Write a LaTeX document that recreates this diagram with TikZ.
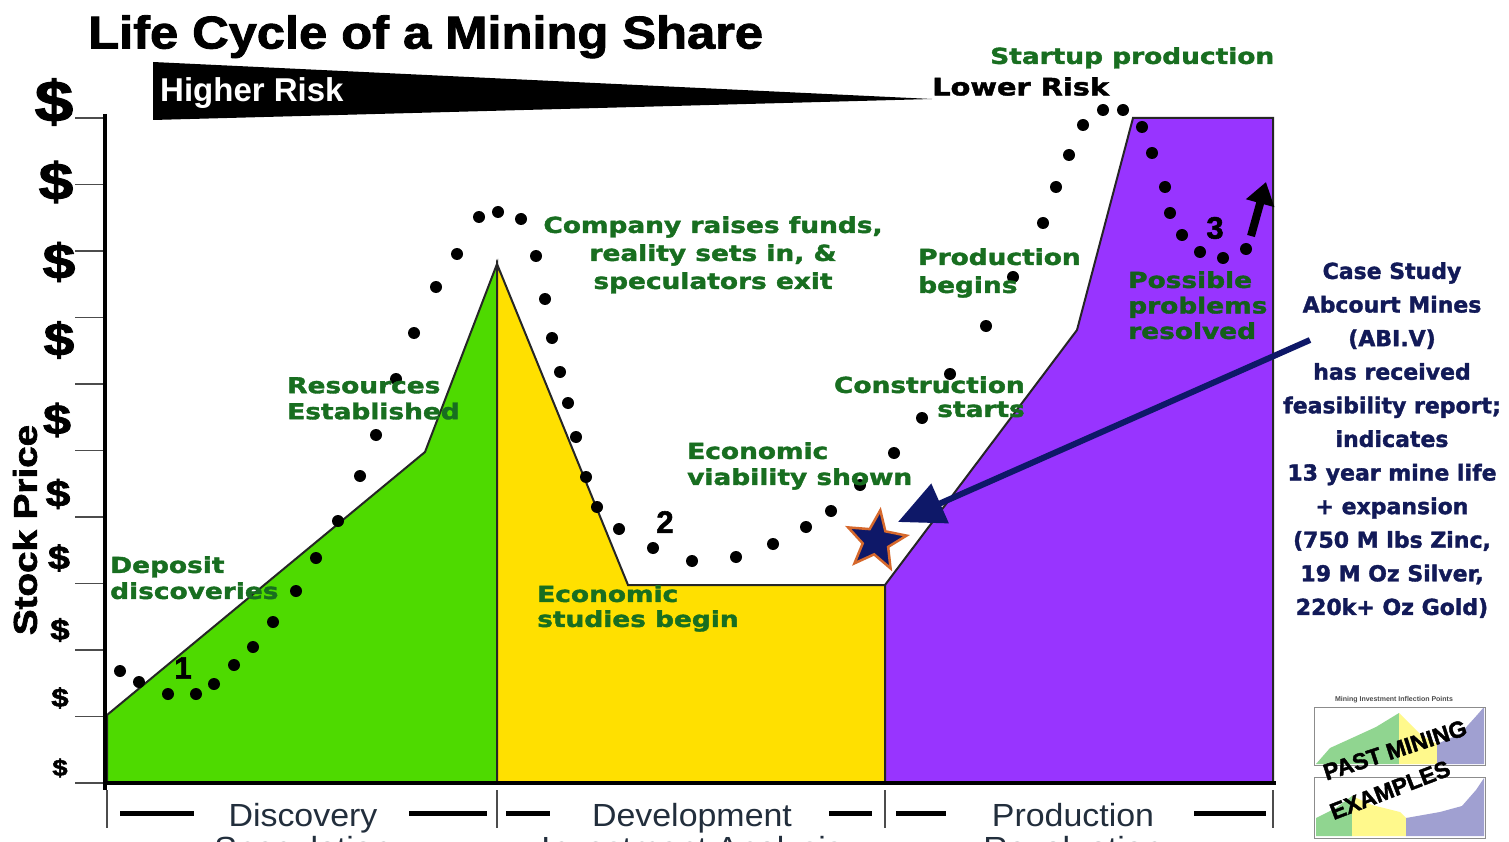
\documentclass[tikz,border=0pt]{standalone}
\usepackage{fontspec}
\usepackage{graphicx}
\setmainfont{Liberation Sans}
\newfontfamily\heavy{DejaVu Sans}[BoldFeatures={FakeBold=1.6}]
\newfontfamily\blackface{Liberation Sans}[BoldFeatures={FakeBold=1.8}]
\usetikzlibrary{arrows.meta,shapes.geometric}

\definecolor{discgreen}{RGB}{78,218,0}
\definecolor{devyellow}{RGB}{255,224,0}
\definecolor{prodpurple}{RGB}{152,52,255}
\definecolor{notegreen}{RGB}{24,110,32}
\definecolor{deepnavy}{RGB}{14,24,104}
\definecolor{casenavy}{RGB}{18,26,88}
\definecolor{phaseink}{RGB}{34,46,60}
\definecolor{staredge}{RGB}{214,104,44}

\begin{document}
\begin{tikzpicture}[x=1pt, y=-1pt,
    stagenote/.style={text=notegreen, font=\heavy\bfseries\fontsize{22}{26}\selectfont, xscale=1.2, inner sep=0pt, align=left, anchor=north west},
    pricedot/.style={fill=black},
    region/.style={draw=black!85, line width=2pt},
    phasename/.style={text=phaseink, font=\fontsize{32}{33}\selectfont, xscale=1.06, inner sep=0pt, anchor=north},
    dollarsign/.style={font=\blackface\bfseries\fontsize{#1}{#1}\selectfont, xscale=1.2, inner sep=0pt},
    stepno/.style={font=\blackface\bfseries\fontsize{31}{31}\selectfont, inner sep=0pt}]
    \useasboundingbox (0,0) rectangle (1509,842);
    \clip (0,0) rectangle (1509,842);
    \fill[white] (0,0) rectangle (1509,842);
    % title and risk wedge
    \node[anchor=north west, inner sep=0pt, font=\blackface\bfseries\fontsize{46}{46}\selectfont, xscale=1.1] (title) at (88,15) {Life Cycle of a Mining Share};
    \fill (153,62) -- (932,99) -- (153,120) -- cycle; % wedge
    \node[anchor=north west, inner sep=0pt, text=white, font=\bfseries\fontsize{33}{33}\selectfont] (hirisk) at (160,77) {Higher Risk};
    \node[anchor=north west, inner sep=0pt, font=\heavy\bfseries\fontsize{24}{24}\selectfont, xscale=1.2] (lorisk) at (932,77) {Lower Risk};
    \node[stagenote] (startup) at (990,47) {Startup production};
    % the three phases
    \filldraw[region, fill=discgreen] (107,783) -- (107,715) -- (425,452) -- (497,264) -- (497,783) -- cycle; % discovery
    \filldraw[region, fill=devyellow] (497,264) -- (628,585) -- (885,585) -- (885,783) -- (497,783) -- cycle; % development
    \filldraw[region, fill=prodpurple] (885,585) -- (1077,330) -- (1133,118) -- (1273,118) -- (1273,783) -- (885,783) -- cycle; % production
    % price axis
    \foreach \t in {0,...,10}
        \draw[line width=1.5pt, black!70] (75,{118+66.5*\t}) -- (105,{118+66.5*\t});
    \draw[line width=4pt] (105,114) -- (105,790); % price axis
    \draw[line width=4pt] (103,783) -- (1276,783); % time axis
    \foreach \yy/\sz/\xx in {102/58/54, 182/52/56, 262/49/59, 340/46/59, 420/42/57, 494/37/58, 558/33/59, 630/29/60, 698/26/60, 768/23/60}
        \node[dollarsign=\sz] (usd\yy) at (\xx,\yy) {\$};
    \node[rotate=90, xscale=1.17, font=\blackface\bfseries\fontsize{33}{33}\selectfont, inner sep=0pt] (ylabel) at (25,530) {Stock Price};
    % share price dots
    \foreach \x/\y in {120/671, 139/682, 168/694, 196/694, 214/684, 234/665, 253/647, 273/622, 296/591, 316/558,
        338/521, 360/476, 376/435, 396/379, 414/333, 436/287, 457/254, 479/217, 498/212, 521/219,
        536/256, 545/299, 552/338, 560/372, 568/403, 576/437, 586/477, 597/507, 619/529, 653/548,
        692/561, 736/557, 773/544, 806/527, 831/511, 860/485, 894/453, 922/418, 950/374, 986/326,
        1013/277, 1043/223, 1056/187, 1069/155, 1083/125, 1103/110, 1123/110, 1142/127, 1152/153, 1165/187,
        1170/213, 1182/235, 1200/252, 1223/258, 1246/249}
        \fill[pricedot] (\x,\y) circle (6pt);
    \node[stepno] (one) at (183,668) {1};
    \node[stepno] (two) at (665,522) {2};
    \node[stepno] (three) at (1215,228) {3};
    \coordinate (upfrom) at (1251,236);
    \coordinate (upto) at (1266,182);
    \draw[line width=8pt, -{Triangle[length=22pt,width=28pt]}] (upfrom) -- (upto); % recovery
    % notes along the curve
    \node[stagenote] (deposit) at (110,556) {Deposit\\discoveries};
    \node[stagenote] (resources) at (287,377) {Resources\\Established};
    \node[stagenote, align=center, anchor=north, font=\heavy\bfseries\fontsize{22}{28}\selectfont] (funds) at (713,216) {Company raises funds,\\reality sets in, \&\\speculators exit};
    \node[stagenote] (viable) at (687,442) {Economic\\viability shown};
    \node[stagenote, font=\heavy\bfseries\fontsize{22}{25}\selectfont] (studies) at (537,585) {Economic\\studies begin};
    \node[stagenote, align=right, anchor=north east, font=\heavy\bfseries\fontsize{22}{24}\selectfont] (build) at (1025,376) {Construction\\starts};
    \node[stagenote, font=\heavy\bfseries\fontsize{22}{28}\selectfont] (begins) at (918,248) {Production\\begins};
    \node[stagenote, text=notegreen!85!black, font=\heavy\bfseries\fontsize{22}{25.5}\selectfont] (resolved) at (1128,271) {Possible\\problems\\resolved};
    % case study
    \node[star, star points=5, star point ratio=2.3, minimum size=62pt, inner sep=0pt, rotate=-8, fill=deepnavy, draw=staredge, line width=2.5pt] (abi) at (876,541) {};
    \node[align=center, anchor=north, inner sep=0pt, text=casenavy, font=\heavy\bfseries\fontsize{22}{33.6}\selectfont] (case) at (1392,262) {Case Study\\Abcourt Mines\\(ABI.V)\\has received\\feasibility report;\\indicates\\13 year mine life\\+ expansion\\(750 M lbs Zinc,\\19 M Oz Silver,\\220k+ Oz Gold)};
    \coordinate (arrowfrom) at (1310,340);
    \coordinate (arrowto) at (898,522);
    \draw[deepnavy, line width=6pt, -{Triangle[length=46pt,width=42pt]}] (arrowfrom) -- (arrowto);
    % phases along the bottom
    \foreach \x in {107,497,885,1273}
        \draw[line width=1.2pt, black!70] (\x,790) -- (\x,828);
    \foreach \a/\b in {120/194, 409/487, 506/550, 829/872, 896/946, 1194/1266}
        \draw[line width=5pt] (\a,813) -- (\b,813);
    \node[phasename] (disc) at (303,803) {Discovery};
    \node[phasename] (devel) at (692,803) {Development};
    \node[phasename] (prod) at (1073,803) {Production};
    \node[phasename] (spec) at (303,836) {Speculation};
    \node[phasename] (invest) at (692,836) {Investment Analysis};
    \node[phasename] (reval) at (1073,836) {Revaluation};
    % past examples thumbnail
    \node[inner sep=0pt, text=black!70, font=\bfseries\fontsize{7}{7}\selectfont] (thumbtitle) at (1394,700) {Mining Investment Inflection Points};
    \fill[green!45!gray!60] (1316,764) -- (1330,748) -- (1352,738) -- (1376,727) -- (1399,713) -- (1399,764) -- cycle;
    \fill[yellow!45] (1399,713) -- (1420,734) -- (1437,744) -- (1437,764) -- (1399,764) -- cycle;
    \fill[blue!35!gray!55] (1437,764) -- (1437,744) -- (1460,734) -- (1478,714) -- (1484,707) -- (1484,764) -- cycle;
    \fill[green!45!gray!60] (1316,836) -- (1316,818) -- (1336,808) -- (1352,796) -- (1352,836) -- cycle;
    \fill[yellow!45] (1352,836) -- (1352,796) -- (1372,805) -- (1400,812) -- (1406,818) -- (1406,836) -- cycle;
    \fill[blue!35!gray!55] (1406,836) -- (1406,818) -- (1440,812) -- (1462,806) -- (1476,790) -- (1484,778) -- (1484,836) -- cycle;
    \draw[black!45, line width=0.8pt] (1314,707) rectangle (1485,765);
    \draw[black!45, line width=0.8pt] (1314,777) rectangle (1485,838);
    \node[rotate=18, inner sep=0pt, font=\blackface\bfseries\fontsize{23}{23}\selectfont] (past) at (1395,750) {PAST MINING};
    \node[rotate=21, inner sep=0pt, font=\blackface\bfseries\fontsize{23}{23}\selectfont] (examples) at (1390,790) {EXAMPLES};
\end{tikzpicture}
\end{document}
